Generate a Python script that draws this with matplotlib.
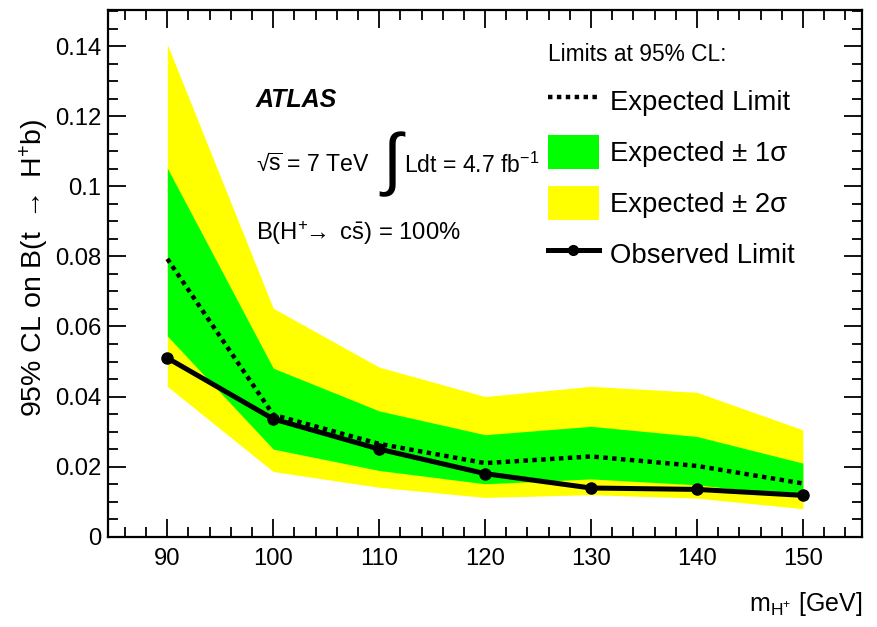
import matplotlib
matplotlib.use("Agg")
import matplotlib.pyplot as plt
from matplotlib.lines import Line2D
from matplotlib.patches import Patch
from matplotlib.ticker import MultipleLocator

FACE = "Liberation Sans"
plt.rcParams['font.family'] = [FACE, 'DejaVu Sans']
plt.rcParams['mathtext.fontset'] = 'custom'
plt.rcParams['mathtext.rm'] = FACE
plt.rcParams['mathtext.it'] = FACE + ':italic'
plt.rcParams['mathtext.bf'] = FACE + ':bold'

# Charged Higgs mass points [GeV]
mass = [90, 100, 110, 120, 130, 140, 150]
# 95% CL upper limits on B(t -> H+ b)
observed = [0.0510, 0.0336, 0.0250, 0.0180, 0.0139, 0.0135, 0.0118]
expected = [0.0793, 0.0348, 0.0265, 0.0210, 0.0229, 0.0202, 0.0152]
exp_minus1 = [0.0573, 0.0250, 0.0189, 0.0151, 0.0165, 0.0148, 0.0115]
exp_plus1 = [0.1052, 0.0481, 0.0359, 0.0291, 0.0315, 0.0286, 0.0210]
exp_minus2 = [0.0429, 0.0186, 0.0141, 0.0112, 0.0120, 0.0110, 0.0080]
exp_plus2 = [0.1405, 0.0652, 0.0484, 0.0400, 0.0429, 0.0412, 0.0305]

x_ticks = [90, 100, 110, 120, 130, 140, 150]
y_ticks = [0, 0.02, 0.04, 0.06, 0.08, 0.1, 0.12, 0.14]
y_tick_labels = ["0", "0.02", "0.04", "0.06", "0.08", "0.1", "0.12", "0.14"]

GREEN = "#00ff00"
YELLOW = "#ffff00"

fig = plt.figure(figsize=(8.78, 6.27), dpi=100)
ax = fig.add_axes([0.123, 0.144, 0.859, 0.840])

ax.fill_between(mass, exp_minus2, exp_plus2, color=YELLOW, lw=0, zorder=1)
ax.fill_between(mass, exp_minus1, exp_plus1, color=GREEN, lw=0, zorder=2)
ax.plot(mass, expected, color="black", lw=3.2, linestyle=(0, (1.0, 1.0)),
        zorder=3)
ax.plot(mass, observed, color="black", lw=3.6, marker="o", markersize=8,
        zorder=4)

ax.set_xlim(84.4, 155.6)
ax.set_ylim(0, 0.1503)
ax.set_xticks(x_ticks)
ax.set_xticklabels([str(v) for v in x_ticks])
ax.set_yticks(y_ticks)
ax.set_yticklabels(y_tick_labels)
ax.xaxis.set_minor_locator(MultipleLocator(2))
ax.yaxis.set_minor_locator(MultipleLocator(0.005))
ax.tick_params(which="both", direction="in", top=True, right=True,
               width=1.3, labelsize=17.2)
ax.tick_params(which="major", length=13)
ax.tick_params(which="minor", length=7)
ax.tick_params(axis="x", pad=8)
ax.tick_params(axis="y", pad=5)
for sp in ax.spines.values():
    sp.set_linewidth(1.6)

ax.set_ylabel(r"95% CL on B(t $\rightarrow$ H$^{+}$b)", fontsize=20.5)
ax.yaxis.set_label_coords(-0.076, 0.51)
ax.set_xlabel(r"m$_{\mathrm{H}^{+}}$ [GeV]", fontsize=18, loc="right")
ax.xaxis.set_label_coords(1.0, -0.102)

# Experiment labels
ax.text(0.196, 0.829, "ATLAS", transform=ax.transAxes, fontsize=18,
        fontweight="bold", fontstyle="italic", va="center", ha="left")
ax.text(0.196, 0.706, "\u221a" + r"$\overline{\mathrm{s}}$ = 7 TeV",
        transform=ax.transAxes, fontsize=16.6, va="center", ha="left")
ax.text(0.359, 0.708, r"$\int$", transform=ax.transAxes, fontsize=50,
        va="center", ha="left", family="DejaVu Sans")
ax.text(0.393, 0.706, r"Ldt = 4.7 fb$^{\mathrm{-1}}$", transform=ax.transAxes,
        fontsize=16.6, va="center", ha="left")
ax.text(0.196, 0.577,
        r"B(H$^{+}\!\!\rightarrow$ c$\bar{\mathrm{s}}$) = 100%",
        transform=ax.transAxes, fontsize=17.2, va="center", ha="left")

handles = [
    Line2D([], [], color="black", lw=3.2, linestyle=(0, (1.0, 1.0))),
    Patch(facecolor=GREEN, edgecolor="none"),
    Patch(facecolor=YELLOW, edgecolor="none"),
    Line2D([], [], color="black", lw=3.6, marker="o", markersize=7),
]
labels = ["Expected Limit", "Expected \u00b1 1\u03c3",
          "Expected \u00b1 2\u03c3", "Observed Limit"]
leg = ax.legend(handles, labels, loc="upper left",
                bbox_to_anchor=(0.583, 0.937), frameon=False,
                fontsize=19.8, title="Limits at 95% CL:",
                title_fontsize=16.4, alignment="left",
                handlelength=1.85, handleheight=1.5,
                handletextpad=0.4, labelspacing=0.64, borderpad=0,
                borderaxespad=0)

fig.savefig("out.png", dpi=100)
